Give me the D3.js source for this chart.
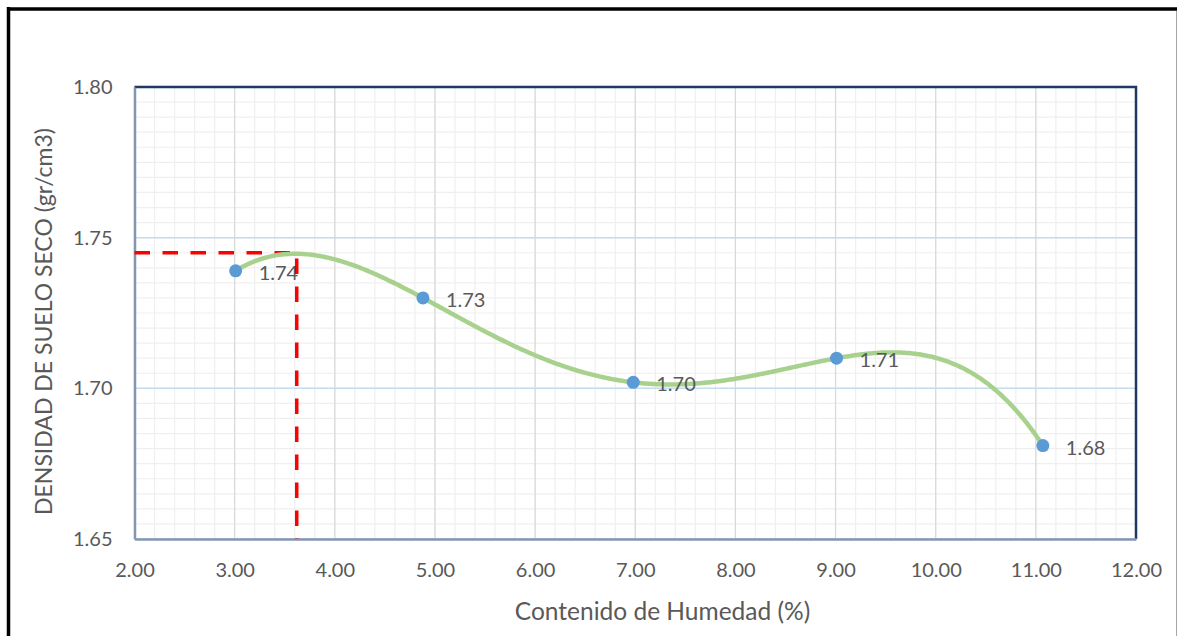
<!DOCTYPE html>
<html>
<head>
<meta charset="utf-8">
<script src="https://cdn.jsdelivr.net/npm/d3@7"></script>
<style>
  html, body { margin: 0; padding: 0; background: #fff; }
  svg { display: block; }
  text { font-family: Lato, "Open Sans", sans-serif; fill: #595959; }
</style>
</head>
<body>
<svg id="chart" width="1178" height="636"></svg>
<script>
// Proctor test: moisture content vs dry density
const moisture = [3.01, 4.88, 6.98, 9.01, 11.07];          // %
const dryDensity = [1.739, 1.730, 1.702, 1.710, 1.681];    // gr/cm3
const xTicks = [2, 3, 4, 5, 6, 7, 8, 9, 10, 11, 12];
const yTicks = [1.65, 1.70, 1.75, 1.80];
const optimumMoisture = 3.62;
const maxDryDensity = 1.745;

const svg = d3.select("#chart");

const x = d3.scaleLinear().domain([2, 12]).range([134.5, 1136]);
const y = d3.scaleLinear().domain([1.65, 1.80]).range([539, 87]);

// outer frame
svg.append("line").attr("x1", 7).attr("x2", 1177).attr("y1", 9).attr("y2", 9)
  .attr("stroke", "#000").attr("stroke-width", 3.5);
svg.append("line").attr("x1", 8.5).attr("x2", 8.5).attr("y1", 7).attr("y2", 636)
  .attr("stroke", "#000").attr("stroke-width", 3.5);
svg.append("line").attr("x1", 1176.5).attr("x2", 1176.5).attr("y1", 11).attr("y2", 636)
  .attr("stroke", "#a6a6a6").attr("stroke-width", 1);

const grid = svg.append("g");
// minor grid
const xMinor = d3.range(2, 12.0001, 0.2);
const yMinor = d3.range(1.65, 1.80001, 0.005);
grid.selectAll(".xm").data(xMinor).join("line")
  .attr("x1", d => x(d)).attr("x2", d => x(d)).attr("y1", y(1.65)).attr("y2", y(1.80))
  .attr("stroke", "#efefef").attr("stroke-width", 1.2);
grid.selectAll(".ym").data(yMinor).join("line")
  .attr("y1", d => y(d)).attr("y2", d => y(d)).attr("x1", x(2)).attr("x2", x(12))
  .attr("stroke", "#efefef").attr("stroke-width", 1.2);
// major grid
grid.selectAll(".xM").data(xTicks).join("line")
  .attr("x1", d => x(d)).attr("x2", d => x(d)).attr("y1", y(1.65)).attr("y2", y(1.80))
  .attr("stroke", "#d9d9d9").attr("stroke-width", 1.2);
grid.selectAll(".yM").data(yTicks).join("line")
  .attr("y1", d => y(d)).attr("y2", d => y(d)).attr("x1", x(2)).attr("x2", x(12))
  .attr("stroke", "#c5dbef").attr("stroke-width", 1.5);

// plot frame: top and right in dark blue, axes in grey-blue
svg.append("path")
  .attr("d", `M${x(2)},${y(1.80)}H${x(12)}V${y(1.65)}`)
  .attr("fill", "none").attr("stroke", "#203864").attr("stroke-width", 2.5);

// axes
const xAxis = d3.axisBottom(x).tickValues(xTicks).tickFormat(d3.format(".2f")).tickSize(0).tickPadding(24);
const yAxis = d3.axisLeft(y).tickValues(yTicks).tickFormat(d3.format(".2f")).tickSize(0).tickPadding(22);
const gx = svg.append("g").attr("transform", `translate(0,${y(1.65)})`).call(xAxis);
const gy = svg.append("g").attr("transform", `translate(${x(2)},0)`).call(yAxis);
[gx, gy].forEach(g => {
  g.select(".domain").attr("stroke", "#8497b0").attr("stroke-width", 2.5);
  g.selectAll("text").style("font-size", "20px").attr("fill", "#595959");
});

// dashed reference lines at the maximum dry density
svg.append("path")
  .attr("d", `M${x(2)},${y(maxDryDensity)}H${x(optimumMoisture)}V${y(1.65)}`)
  .attr("fill", "none").attr("stroke", "#ff0000").attr("stroke-width", 3.5)
  .attr("stroke-dasharray", "15.5,12.5");

// 4th order polynomial trend through the test points
function trend(xv) {
  let s = 0;
  for (let i = 0; i < moisture.length; i++) {
    let term = dryDensity[i];
    for (let j = 0; j < moisture.length; j++) {
      if (j !== i) term *= (xv - moisture[j]) / (moisture[i] - moisture[j]);
    }
    s += term;
  }
  return s;
}
const xs = d3.range(moisture[0], moisture[moisture.length - 1], 0.02).concat([moisture[moisture.length - 1]]);
svg.append("path")
  .datum(xs)
  .attr("d", d3.line().x(d => x(d)).y(d => y(trend(d))))
  .attr("fill", "none").attr("stroke", "#a9d18e").attr("stroke-width", 4.5)
  .attr("stroke-linecap", "round");

// points and labels
const pts = moisture.map((m, i) => ({ m, d: dryDensity[i] }));
svg.selectAll(".pt").data(pts).join("circle")
  .attr("cx", d => x(d.m)).attr("cy", d => y(d.d)).attr("r", 6.5)
  .attr("fill", "#5b9bd5");
svg.selectAll(".lbl").data(pts).join("text")
  .attr("x", d => x(d.m) + 23).attr("y", d => y(d.d) + 2)
  .attr("dy", "0.35em").style("font-size", "20px")
  .text(d => d3.format(".2f")(d.d));

// axis titles
svg.append("text")
  .attr("x", 662.5).attr("y", 611).attr("dy", "0.35em").attr("text-anchor", "middle")
  .style("font-size", "24.5px").text("Contenido de Humedad (%)");
svg.append("text")
  .attr("transform", `translate(44,321.5) rotate(-90)`).attr("dy", "0.35em")
  .attr("text-anchor", "middle").style("font-size", "23px")
  .text("DENSIDAD DE SUELO SECO (gr/cm3)");
</script>
</body>
</html>
